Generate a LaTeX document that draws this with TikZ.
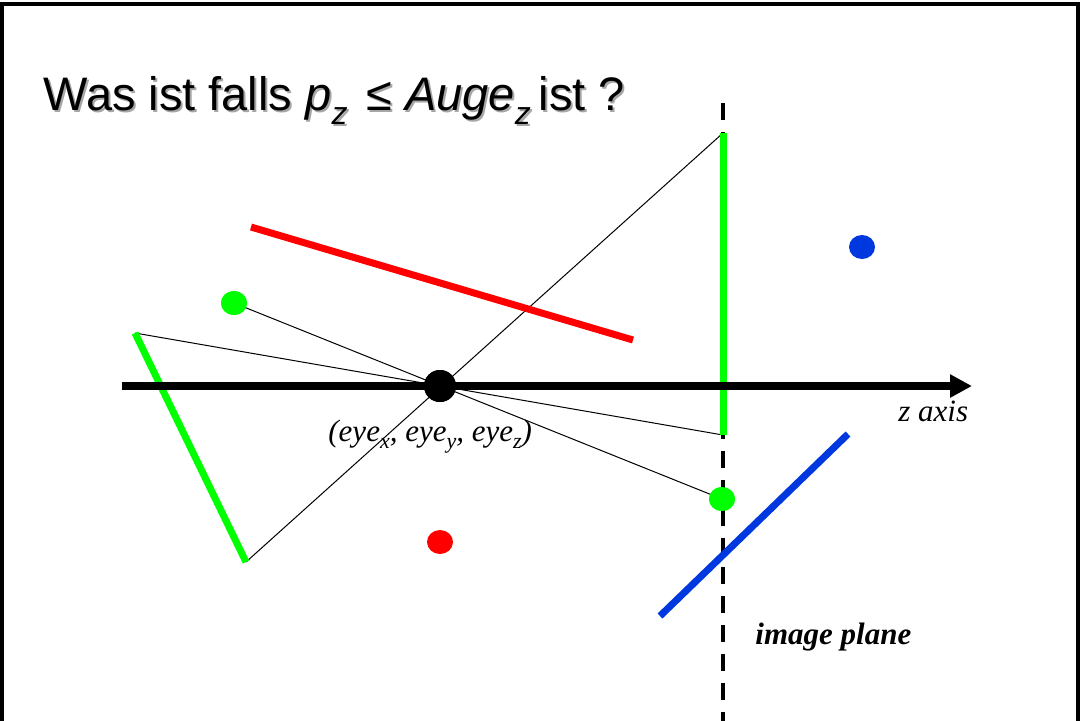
\documentclass[tikz,border=0pt]{standalone}
\usepackage{fontspec}
\setmainfont{Liberation Serif}
\newfontfamily\arialfont{Liberation Sans}
\usetikzlibrary{arrows.meta,shapes.geometric}
\definecolor{ptgreen}{HTML}{00FF00}
\definecolor{ptred}{HTML}{FF0000}
\definecolor{ptblue}{HTML}{0038E0}
\newcommand{\titlesub}[1]{\raisebox{-0.6ex}{\fontsize{16}{16}\selectfont\textit{#1}}}
\newcommand{\eyesub}[1]{\raisebox{-0.5ex}{\fontsize{11}{11}\selectfont\textit{#1}}}
\newcommand{\titletext}{Was ist falls \textit{p}\titlesub{z}\hspace{0.4em}≤ \textit{Auge}\titlesub{z}\,ist ?}

\begin{document}
\begin{tikzpicture}[x=0.5pt, y=-0.5pt,
    seg/.style={line width=3.5pt},
    ray/.style={line width=0.5pt, black},
    dot/.style={ellipse, minimum width=13pt, minimum height=12pt, inner sep=0pt},
    axis/.style={line width=4pt, -{Triangle[length=11pt, width=11pt]}},
    plane/.style={line width=2pt, dash pattern=on 8.5pt off 6pt},
    lbl/.style={font=\fontsize{15.5}{18}\selectfont\itshape, anchor=base west, inner sep=0pt},
    ttl/.style={font=\arialfont\fontsize{23.5}{28}\selectfont, anchor=base west, inner sep=0pt},
  ]
  \useasboundingbox (0,0) rectangle (1080,720);

  % frame
  \draw[line width=2pt] (1.5,760) -- (1.5,4) -- (1077.5,4) -- (1077.5,760);

  % title with shadow
  \node[ttl, text=black!35] (titleshadow) at (45,112) {\titletext};
  \node[ttl] (title) at (43,110) {\titletext};

  % end points
  \coordinate (ztail) at (122,386);
  \coordinate (zhead) at (972,386);
  \coordinate (ptop) at (723,103);
  \coordinate (pbot) at (723,730);
  \coordinate (imtop) at (723,133);
  \coordinate (imbot) at (723,435);
  \coordinate (redA) at (251,227);
  \coordinate (redB) at (633,340);
  \coordinate (grnA) at (135,333);
  \coordinate (grnB) at (246,562);
  \coordinate (bluA) at (848,434);
  \coordinate (bluB) at (660,616);

  \node[dot, fill=ptgreen] (gdot) at (234,303) {};
  \node[dot, fill=ptgreen] (gimg) at (722,499) {};
  \node[dot, fill=ptblue] (bdot) at (862,247) {};
  \node[dot, fill=ptred] (rdot) at (440,542) {};
  \node[circle, fill=black, minimum size=16pt, inner sep=0pt] (eye) at (440,386) {};

  % rays through the eye
  \draw[ray] (gdot.center) -- (gimg.center);
  \draw[ray] (grnA) -- (imbot);
  \draw[ray] (grnB) -- (imtop);

  % image plane
  \draw[plane] (ptop) -- (pbot);

  % segments
  \draw[seg, ptred] (redA) -- (redB);
  \draw[seg, ptgreen] (grnA) -- (grnB);
  \draw[seg, ptgreen] (imtop) -- (imbot);
  \draw[seg, ptblue] (bluA) -- (bluB);

  \node[dot, fill=ptgreen] at (gdot) {};
  \node[dot, fill=ptgreen] at (gimg) {};

  % z axis
  \draw[axis] (ztail) -- (zhead);
  \node[circle, fill=black, minimum size=16pt, inner sep=0pt] at (eye) {};

  % labels
  \node[lbl] (eyelbl) at (328,441) {(eye\eyesub{x}, eye\eyesub{y}, eye\eyesub{z})};
  \node[lbl] (zlbl) at (898,421) {z axis};
  \node[lbl, font=\fontsize{15.5}{18}\selectfont\bfseries\itshape] (planelbl) at (755,644) {image plane};
\end{tikzpicture}
\end{document}
